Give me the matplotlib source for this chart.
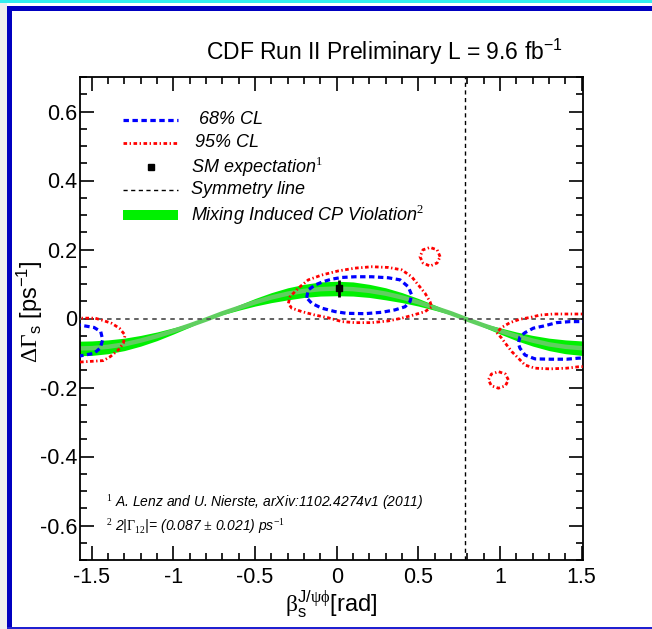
import numpy as np
import matplotlib.pyplot as plt
from matplotlib.patches import Rectangle
from matplotlib.ticker import MultipleLocator

plt.rcParams['font.family'] = ['Liberation Sans', 'DejaVu Sans']
plt.rcParams['mathtext.fontset'] = 'custom'
plt.rcParams['mathtext.rm'] = 'Liberation Serif'
plt.rcParams['mathtext.sf'] = 'Liberation Sans'
plt.rcParams['mathtext.it'] = 'Liberation Sans:italic'
plt.rcParams['axes.unicode_minus'] = False

# --- data ---
band_beta = [-1.6, -1.5, -1.4, -1.3, -1.2, -1.1, -1.0, -0.9, -0.8, -0.7, -0.6, -0.5, -0.4,
             -0.3, -0.2, -0.1, 0.0, 0.1, 0.2, 0.3, 0.4, 0.5, 0.6, 0.7, 0.8, 0.9, 1.0,
             1.1, 1.2, 1.3, 1.4, 1.5, 1.6]
band_hi = [-0.108, -0.107, -0.102, -0.093, -0.080, -0.064, -0.045, -0.025, -0.003, 0.018,
           0.039, 0.058, 0.075, 0.089, 0.099, 0.106, 0.108, 0.106, 0.099, 0.089, 0.075,
           0.058, 0.039, 0.018, -0.003, -0.025, -0.045, -0.064, -0.080, -0.093, -0.102,
           -0.107, -0.108]
band_lo = [-0.066, -0.065, -0.062, -0.057, -0.049, -0.039, -0.027, -0.015, -0.002, 0.011,
           0.024, 0.036, 0.046, 0.054, 0.061, 0.065, 0.066, 0.065, 0.061, 0.054, 0.046,
           0.036, 0.024, 0.011, -0.002, -0.015, -0.027, -0.039, -0.049, -0.057, -0.062,
           -0.065, -0.066]
band_mid = [-0.087, -0.086, -0.082, -0.075, -0.064, -0.051, -0.036, -0.020, -0.003, 0.015,
            0.031, 0.047, 0.061, 0.072, 0.080, 0.085, 0.087, 0.085, 0.080, 0.072, 0.061,
            0.047, 0.031, 0.015, -0.003, -0.020, -0.036, -0.051, -0.064, -0.075, -0.082,
            -0.086, -0.087]

# 68% CL contours (beta, dGamma)
cl68_mid_x = [-0.184, -0.174, -0.133, -0.082, -0.031, 0.031, 0.112, 0.214, 0.316, 0.388,
              0.438, 0.459, 0.449, 0.418, 0.357, 0.276, 0.173, 0.061, -0.010, -0.092,
              -0.153, -0.184]
cl68_mid_y = [0.060, 0.083, 0.097, 0.107, 0.114, 0.119, 0.121, 0.121, 0.118, 0.112,
              0.092, 0.068, 0.049, 0.034, 0.025, 0.018, 0.014, 0.015, 0.020, 0.030,
              0.044, 0.060]
cl68_right_x = [1.54, 1.429, 1.347, 1.265, 1.204, 1.153, 1.122, 1.112, 1.122, 1.153,
                1.214, 1.306, 1.408, 1.479, 1.54]
cl68_right_y = [-0.009, -0.009, -0.012, -0.022, -0.028, -0.041, -0.053, -0.072, -0.086,
                -0.106, -0.117, -0.118, -0.118, -0.115, -0.114]
cl68_left_x = [-1.60, -1.486, -1.445, -1.433, -1.449, -1.486, -1.60]
cl68_left_y = [-0.017, -0.026, -0.038, -0.062, -0.086, -0.101, -0.111]

# 95% CL contours
cl95_mid_x = [-0.296, -0.286, -0.235, -0.174, -0.092, 0.010, 0.112, 0.214, 0.316, 0.398,
              0.459, 0.500, 0.541, 0.571, 0.582, 0.541, 0.469, 0.398, 0.316, 0.214,
              0.112, 0.031, -0.051, -0.133, -0.214, -0.276, -0.296]
cl95_mid_y = [0.044, 0.063, 0.088, 0.112, 0.126, 0.138, 0.146, 0.150, 0.148, 0.141,
              0.121, 0.097, 0.073, 0.049, 0.034, 0.020, 0.010, 0.001, -0.007, -0.012,
              -0.012, -0.009, 0.002, 0.010, 0.020, 0.030, 0.044]
cl95_right_x = [1.54, 1.408, 1.326, 1.245, 1.184, 1.122, 1.061, 1.010, 0.980, 1.010,
                1.041, 1.072, 1.112, 1.153, 1.214, 1.306, 1.408, 1.479, 1.54]
cl95_right_y = [0.013, 0.013, 0.013, 0.010, 0.003, -0.002, -0.012, -0.026, -0.041,
                -0.057, -0.077, -0.096, -0.115, -0.135, -0.144, -0.146, -0.144, -0.140,
                -0.139]
cl95_left_x = [-1.60, -1.480, -1.429, -1.378, -1.331, -1.296, -1.307, -1.337, -1.388,
               -1.429, -1.60]
cl95_left_y = [0.001, 0.001, -0.006, -0.014, -0.028, -0.048, -0.072, -0.091, -0.111,
               -0.122, -0.127]
cl95_islandA_x = [0.633, 0.615, 0.571, 0.528, 0.510, 0.528, 0.571, 0.615, 0.633]
cl95_islandA_y = [0.179, 0.199, 0.206, 0.199, 0.179, 0.161, 0.152, 0.161, 0.179]
cl95_islandB_x = [1.051, 1.033, 0.990, 0.947, 0.929, 0.947, 0.990, 1.033, 1.051]
cl95_islandB_y = [-0.178, -0.161, -0.154, -0.161, -0.178, -0.195, -0.202, -0.195, -0.178]

sm_beta, sm_dg, sm_err = 0.015, 0.088, 0.025
sym_beta = 0.785

xticks = [-1.5, -1.0, -0.5, 0.0, 0.5, 1.0, 1.5]
xtick_labels = ['-1.5', '-1', '-0.5', '0', '0.5', '1', '1.5']
yticks = [-0.6, -0.4, -0.2, 0.0, 0.2, 0.4, 0.6]
ytick_labels = ['-0.6', '-0.4', '-0.2', '0', '0.2', '0.4', '0.6']

green = '#00f000'
green_mid = '#5fcf5f'
blue = '#0000ff'
red = '#ff0000'
dash68 = (0, (1.7, 1.1))
dash95 = (0, (1.3, 0.9, 0.5, 0.9))

fig = plt.figure(figsize=(6.52, 6.29), dpi=100)
ax = fig.add_axes([80 / 652, 1 - 560 / 629, 503 / 652, 483 / 629])

ax.fill_between(band_beta, band_lo, band_hi, color=green, lw=0, zorder=2)
ax.plot(band_beta, band_mid, color=green_mid, lw=3.2, zorder=2)

ax.axhline(0, color='#555555', lw=1.3, ls=(0, (2.5, 2.5)), zorder=3)
ax.axvline(sym_beta, color='black', lw=1.0, ls=(0, (3, 2.5)), zorder=3)

for xs, ys in [(cl68_mid_x, cl68_mid_y), (cl68_right_x, cl68_right_y),
               (cl68_left_x, cl68_left_y)]:
    ax.plot(xs, ys, color=blue, lw=2.3, ls=dash68, zorder=4)
for xs, ys in [(cl95_mid_x, cl95_mid_y), (cl95_right_x, cl95_right_y),
               (cl95_left_x, cl95_left_y), (cl95_islandA_x, cl95_islandA_y),
               (cl95_islandB_x, cl95_islandB_y)]:
    ax.plot(xs, ys, color=red, lw=2.0, ls=dash95, zorder=4)

ax.errorbar([sm_beta], [sm_dg], yerr=[sm_err], fmt='s', color='black', ms=5,
            elinewidth=2, capsize=0, zorder=5)

ax.set_xlim(-1.572, 1.508)
ax.set_ylim(-0.7, 0.7)
ax.set_xticks(xticks)
ax.set_xticklabels(xtick_labels)
ax.set_yticks(yticks)
ax.set_yticklabels(ytick_labels)
ax.xaxis.set_minor_locator(MultipleLocator(0.1))
ax.yaxis.set_minor_locator(MultipleLocator(0.05))
ax.tick_params(which='both', direction='in', top=True, right=True, width=1.2,
               labelsize=15.5)
ax.tick_params(which='major', length=10)
ax.tick_params(which='minor', length=5)
ax.tick_params(axis='x', pad=5)
ax.tick_params(axis='y', pad=2)
for s in ax.spines.values():
    s.set_linewidth(1.3)

ax.set_xlabel(r'$\mathrm{\beta}_{\mathsf{s}}^{\mathsf{J/}\mathrm{\psi\phi}}$[rad]',
              fontsize=17, labelpad=0)
fig.text(30 / 652, 1 - 312 / 629, r'$\mathrm{\Delta\Gamma}_{\mathsf{s}}$ [ps$^{\mathsf{-1}}$]',
         fontsize=17, rotation=90, ha='center', va='center')

fig.text(384 / 652, 1 - 52 / 629, r'CDF Run II Preliminary L = 9.6 fb$^{\mathsf{-1}}$',
         fontsize=16.5, ha='center', va='center')

# legend
def ax_xy(px, py):
    return (px - 80) / 503, (560 - py) / 483

leg_font = dict(fontsize=13, style='italic', va='center', transform=ax.transAxes)
x0, _ = ax_xy(123, 0)
x1, _ = ax_xy(178, 0)
_, y = ax_xy(0, 120)
ax.plot([x0, x1], [y, y], color=blue, lw=2.3, ls=dash68, transform=ax.transAxes)
ax.text(ax_xy(199, 0)[0], y, '68% CL', **leg_font)
_, y = ax_xy(0, 142.5)
ax.plot([x0, x1], [y, y], color=red, lw=2.0, ls=dash95, transform=ax.transAxes)
ax.text(ax_xy(195, 0)[0], y, '95% CL', **leg_font)
_, y = ax_xy(0, 167)
ax.plot([ax_xy(151, 0)[0]], [y], 's', color='black', ms=5, transform=ax.transAxes)
ax.text(ax_xy(191, 0)[0], y, r'SM expectation$^{\mathit{1}}$', **leg_font)
_, y = ax_xy(0, 190)
ax.plot([x0, x1], [y, y], color='black', lw=1.0, ls=(0, (3, 2.5)), transform=ax.transAxes)
ax.text(ax_xy(191, 0)[0], y, 'Symmetry line', **leg_font)
_, y = ax_xy(0, 215)
ax.add_patch(Rectangle((x0, y - 0.0105), x1 - x0, 0.021, color=green, lw=0,
                       transform=ax.transAxes))
ax.text(ax_xy(191, 0)[0], y, r'Mixing Induced CP Violation$^{\mathit{2}}$', **leg_font)

foot = dict(fontsize=10, style='italic', va='center', transform=ax.transAxes)
ax.text(ax_xy(106, 0)[0], ax_xy(0, 502)[1],
        r'$^{\mathit{1}}$ A. Lenz and U. Nierste, arXiv:1102.4274v1 (2011)', **foot)
ax.text(ax_xy(106, 0)[0], ax_xy(0, 526)[1],
        r'$^{\mathit{2}}$ 2|$\Gamma_{\mathit{12}}$|= (0.087 $\pm$ 0.021) ps$^{\mathit{-1}}$',
        **foot)

# screenshot frame
def frame_rect(px, py, w, h, c):
    fig.add_artist(Rectangle((px / 652, 1 - (py + h) / 629), w / 652, h / 629,
                             color=c, lw=0, transform=fig.transFigure))

frame_rect(0, 0, 652, 3, '#33eeee')
frame_rect(0, 3, 7, 626, '#eeeeee')
frame_rect(7, 6, 645, 4.5, '#0000c0')
frame_rect(7, 6, 4.5, 622, '#0000c0')
frame_rect(7, 627, 645, 1.6, '#2020d0')

fig.savefig('out.png', dpi=100)
